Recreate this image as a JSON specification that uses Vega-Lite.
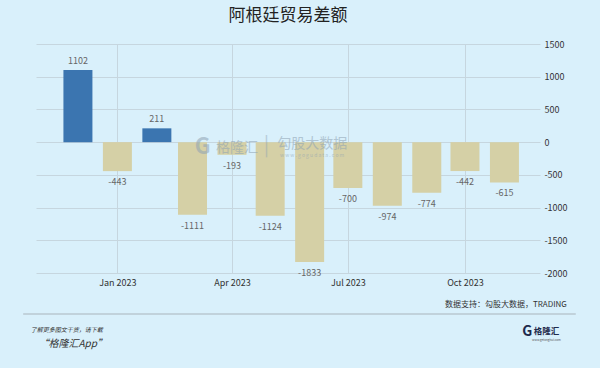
{
  "$schema": "https://vega.github.io/schema/vega-lite/v6.json",
  "width": 504,
  "height": 229,
  "autosize": {"type": "none"},
  "padding": {"left": 36, "top": 44, "right": 60, "bottom": 95},
  "background": "#d9f0fb",
  "title": {"text": "阿根廷贸易差额", "fontSize": 17, "font": "Noto Sans CJK SC", "fontWeight": "normal", "color": "#222222", "anchor": "middle", "offset": 15},
  "config": {
    "view": {"stroke": null},
    "font": "Noto Sans CJK SC",
    "axisY": {"tickCount": 8, "labelExpr": "'' + datum.value", "labelOverlap": false, "labelFlush": false, "orient": "right",
      "grid": true, "gridColor": "#c6d6df", "gridWidth": 1, "ticks": false, "domain": false, "title": null,
      "labelFontSize": 9, "labelColor": "#333333", "labelPadding": 4},
    "axisX": {"grid": true, "gridColor": "#c6d6df", "gridWidth": 1, "ticks": false, "domain": false, "title": null,
      "labelFontSize": 9, "labelColor": "#333333", "labelPadding": 5}
  },
  "layer": [
    {
      "data": {"values": [
        {"month": "2022-12-01", "value": 1102},
        {"month": "2023-01-01", "value": -443},
        {"month": "2023-02-01", "value": 211},
        {"month": "2023-03-01", "value": -1111},
        {"month": "2023-04-01", "value": -193},
        {"month": "2023-05-01", "value": -1124},
        {"month": "2023-06-01", "value": -1833},
        {"month": "2023-07-01", "value": -700},
        {"month": "2023-08-01", "value": -974},
        {"month": "2023-09-01", "value": -774},
        {"month": "2023-10-01", "value": -442},
        {"month": "2023-11-01", "value": -615}
      ]},
      "layer": [
        {
          "mark": {"type": "bar", "size": 29},
          "encoding": {
            "x": {"field": "month", "type": "temporal",
              "scale": {"type": "utc", "domain": [{"year": 2022, "month": 11, "date": 2, "utc": true}, {"year": 2023, "month": 11, "date": 25, "utc": true}]},
              "axis": {"title": null, "values": [
                {"year": 2023, "month": 1, "date": 1, "utc": true},
                {"year": 2023, "month": 4, "date": 1, "utc": true},
                {"year": 2023, "month": 7, "date": 1, "utc": true},
                {"year": 2023, "month": 10, "date": 1, "utc": true}],
                "format": "%b %Y"}},
            "y": {"field": "value", "type": "quantitative",
              "scale": {"domain": [-2000, 1500], "nice": false},
              "axis": {"title": null, "orient": "right", "values": [-2000, -1500, -1000, -500, 0, 500, 1000, 1500]}},
            "color": {"condition": {"test": "datum.value > 0", "value": "#3b75b0"}, "value": "#d5d0a6"}
          }
        },
        {
          "transform": [{"filter": "datum.value > 0"}],
          "mark": {"type": "text", "baseline": "middle", "dy": -9, "fontSize": 9, "color": "#666666"},
          "encoding": {
            "x": {"field": "month", "type": "temporal"},
            "y": {"field": "value", "type": "quantitative"},
            "text": {"field": "value", "type": "nominal"}
          }
        },
        {
          "transform": [{"filter": "datum.value < 0"}],
          "mark": {"type": "text", "baseline": "middle", "dy": 11, "fontSize": 9, "color": "#666666"},
          "encoding": {
            "x": {"field": "month", "type": "temporal"},
            "y": {"field": "value", "type": "quantitative"},
            "text": {"field": "value", "type": "nominal"}
          }
        }
      ]
    },
    {
      "data": {"values": [{}]},
      "layer": [
        {"mark": {"type": "text", "text": "G", "fontSize": 22, "fontWeight": "bold", "color": "#8fa3b3", "opacity": 0.55, "baseline": "middle", "align": "center"},
          "encoding": {"x": {"datum": {"year": 2023, "month": 3, "date": 9, "utc": true}, "type": "temporal"}, "y": {"datum": -74, "type": "quantitative"}}},
        {"mark": {"type": "text", "text": "格隆汇", "fontSize": 14, "color": "#8fa3b3", "opacity": 0.55, "baseline": "middle", "align": "center"},
          "encoding": {"x": {"datum": {"year": 2023, "month": 4, "date": 5, "utc": true}, "type": "temporal"}, "y": {"datum": -89, "type": "quantitative"}}},
        {"mark": {"type": "text", "text": "|", "fontSize": 20, "color": "#8fa3b3", "opacity": 0.45, "baseline": "middle", "align": "center"},
          "encoding": {"x": {"datum": {"year": 2023, "month": 4, "date": 28, "utc": true}, "type": "temporal"}, "y": {"datum": -59, "type": "quantitative"}}},
        {"mark": {"type": "text", "text": "勾股大数据", "fontSize": 14, "color": "#8fa3b3", "opacity": 0.55, "baseline": "middle", "align": "center"},
          "encoding": {"x": {"datum": {"year": 2023, "month": 6, "date": 3, "utc": true}, "type": "temporal"}, "y": {"datum": -21, "type": "quantitative"}}},
        {"mark": {"type": "text", "text": "w w w . g o g u d a t a . c o m", "fontSize": 5, "color": "#8fa3b3", "opacity": 0.55, "baseline": "middle", "align": "center"},
          "encoding": {"x": {"datum": {"year": 2023, "month": 6, "date": 3, "utc": true}, "type": "temporal"}, "y": {"datum": -189, "type": "quantitative"}}},
        {"mark": {"type": "text", "text": "数据支持：勾股大数据，TRADING", "fontSize": 8, "color": "#333333", "baseline": "middle", "align": "right"},
          "encoding": {"x": {"datum": {"year": 2023, "month": 12, "date": 20, "utc": true}, "type": "temporal"}, "y": {"datum": -2489, "type": "quantitative"}}},
        {"mark": {"type": "rule", "color": "#b8c8d1", "strokeWidth": 1.5},
          "encoding": {"x": {"datum": {"year": 2022, "month": 10, "date": 19, "utc": true}, "type": "temporal"}, "x2": {"datum": {"year": 2023, "month": 12, "date": 27, "utc": true}}, "y": {"datum": -2627, "type": "quantitative"}}},
        {"mark": {"type": "text", "text": "了解更多图文干货，请下载", "fontSize": 6, "fontStyle": "italic", "color": "#333333", "baseline": "middle", "align": "left"},
          "encoding": {"x": {"datum": {"year": 2022, "month": 10, "date": 25, "utc": true}, "type": "temporal"}, "y": {"datum": -2871, "type": "quantitative"}}},
        {"mark": {"type": "text", "text": "“格隆汇App”", "fontSize": 10, "fontStyle": "italic", "color": "#333333", "baseline": "middle", "align": "left"},
          "encoding": {"x": {"datum": {"year": 2022, "month": 10, "date": 31, "utc": true}, "type": "temporal"}, "y": {"datum": -3085, "type": "quantitative"}}},
        {"mark": {"type": "text", "text": "G", "fontSize": 14, "fontWeight": "bold", "color": "#1f2b4d", "baseline": "middle", "align": "center"},
          "encoding": {"x": {"datum": {"year": 2023, "month": 11, "date": 19, "utc": true}, "type": "temporal"}, "y": {"datum": -2909, "type": "quantitative"}}},
        {"mark": {"type": "text", "text": "格隆汇", "fontSize": 8.5, "fontWeight": "bold", "color": "#1f2b4d", "baseline": "middle", "align": "center"},
          "encoding": {"x": {"datum": {"year": 2023, "month": 12, "date": 4, "utc": true}, "type": "temporal"}, "y": {"datum": -2886, "type": "quantitative"}}},
        {"mark": {"type": "text", "text": "www.gelonghui.com", "fontSize": 3, "color": "#555555", "baseline": "middle", "align": "center"},
          "encoding": {"x": {"datum": {"year": 2023, "month": 12, "date": 4, "utc": true}, "type": "temporal"}, "y": {"datum": -3030, "type": "quantitative"}}}
      ]
    }
  ]
}
